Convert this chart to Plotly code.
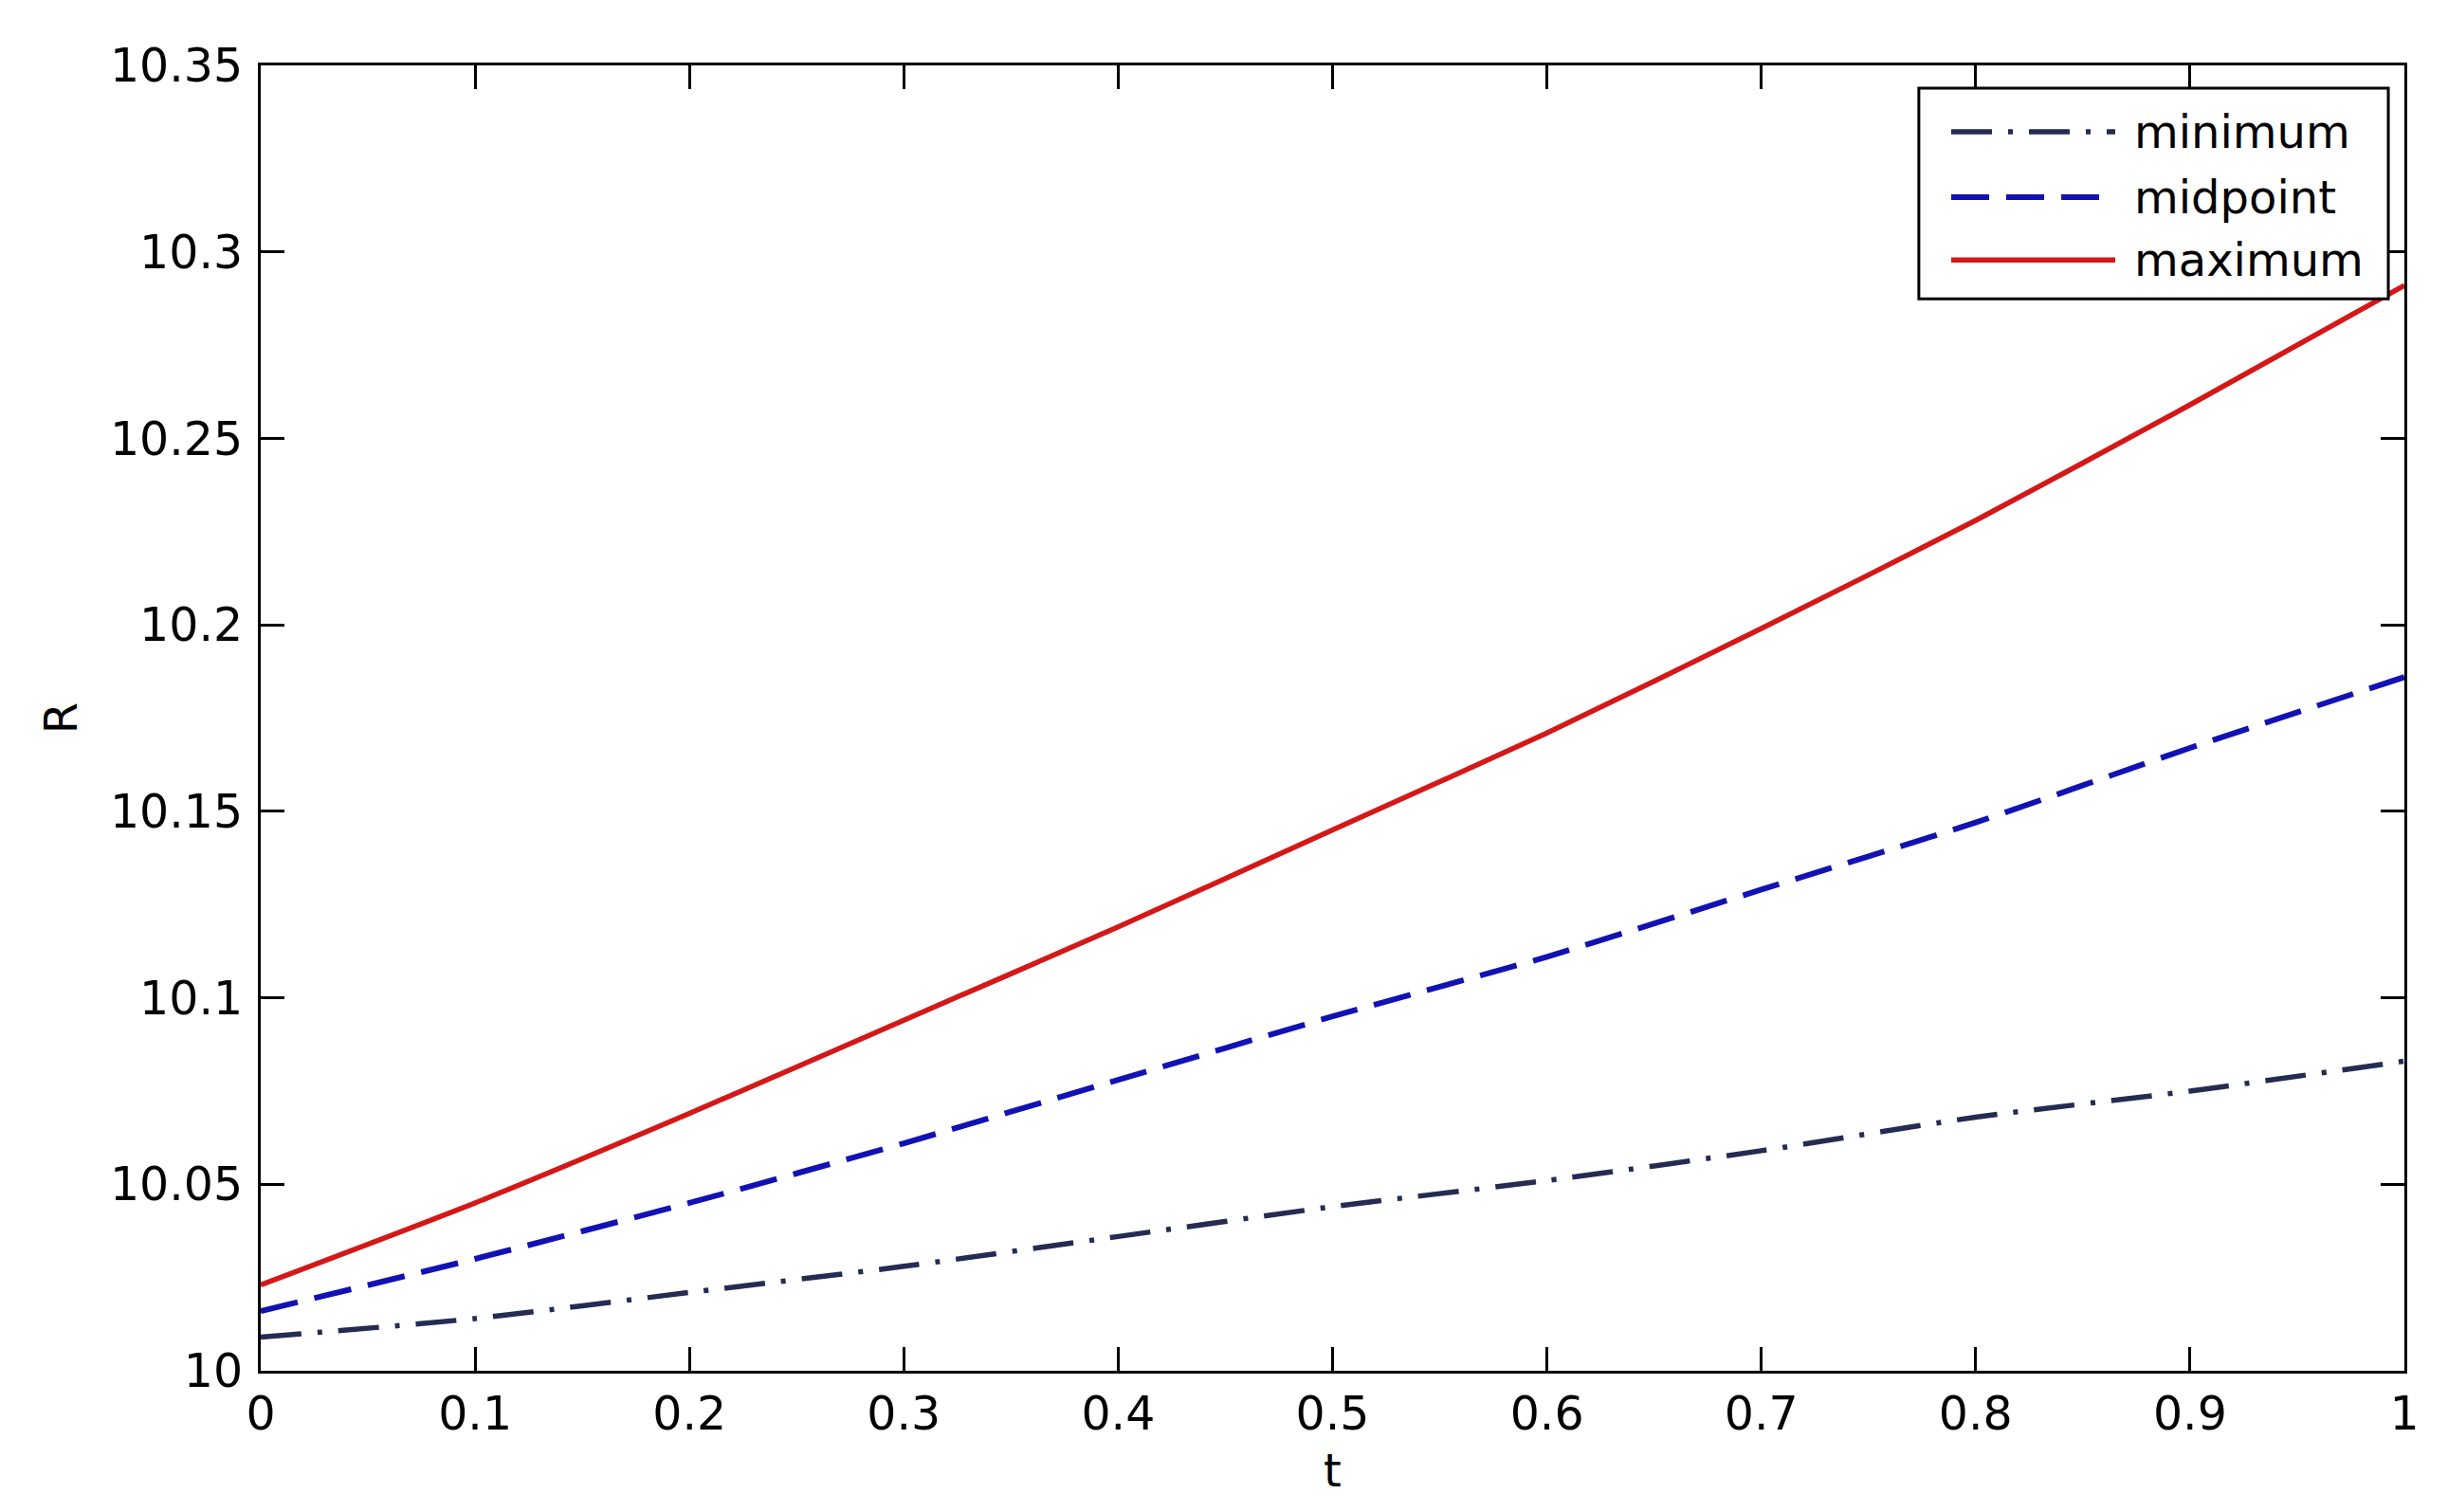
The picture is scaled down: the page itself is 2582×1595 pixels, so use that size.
import plotly.graph_objects as go

# ---- data ----
t_values = [0.0, 0.1, 0.2, 0.3, 0.4, 0.5, 0.6, 0.7, 0.8, 0.9, 1.0]
r_minimum = [10.009, 10.014, 10.021, 10.028, 10.036, 10.044, 10.051, 10.059, 10.068, 10.075, 10.083]
r_midpoint = [10.016, 10.030, 10.045, 10.061, 10.078, 10.095, 10.111, 10.129, 10.147, 10.167, 10.186]
r_maximum = [10.023, 10.045, 10.069, 10.094, 10.119, 10.145, 10.171, 10.199, 10.228, 10.259, 10.291]

series_names = ["minimum", "midpoint", "maximum"]
x_tick_vals = [0, 0.1, 0.2, 0.3, 0.4, 0.5, 0.6, 0.7, 0.8, 0.9, 1]
x_tick_text = ["0", "0.1", "0.2", "0.3", "0.4", "0.5", "0.6", "0.7", "0.8", "0.9", "1"]
y_tick_vals = [10, 10.05, 10.1, 10.15, 10.2, 10.25, 10.3, 10.35]
y_tick_text = ["10", "10.05", "10.1", "10.15", "10.2", "10.25", "10.3", "10.35"]

# ---- styles ----
colors = ["#252b52", "#1212b4", "#d41818"]
dashes = ["43px,17px,5px,17px", "40px,18px", "solid"]
widths = [5.5, 6, 5.5]
FONT = "DejaVu Sans"

fig = go.Figure()
for name, ys, c, d, w in zip(series_names, [r_minimum, r_midpoint, r_maximum], colors, dashes, widths):
    fig.add_trace(go.Scatter(x=t_values, y=ys, mode="lines", name=name,
                             line=dict(color=c, dash=d, width=w, shape="spline", smoothing=0.6),
                             showlegend=False))

axis_common = dict(showline=True, linecolor="black", linewidth=3, mirror="ticks",
                   ticks="inside", ticklen=25, tickwidth=3, tickcolor="black",
                   showgrid=False, zeroline=False,
                   tickfont=dict(family=FONT, size=49, color="black"))

fig.update_xaxes(range=[0, 1], tickmode="array", tickvals=x_tick_vals, ticktext=x_tick_text,
                 ticklabelstandoff=0,
                 title=dict(text="t", font=dict(family=FONT, size=48, color="black"), standoff=16),
                 **axis_common)
fig.update_yaxes(range=[10, 10.35], tickmode="array", tickvals=y_tick_vals, ticktext=y_tick_text,
                 ticklabelstandoff=6,
                 title=dict(text="R", font=dict(family=FONT, size=48, color="black"), standoff=20),
                 **axis_common)

# ---- custom legend (long line samples as in the reference) ----
shapes = [dict(type="rect", xref="paper", yref="paper", x0=0.7735, x1=0.9925, y0=0.8212, y1=0.9826,
               line=dict(color="black", width=3), fillcolor="white", layer="above")]
annotations = []
entry_y = [0.9491, 0.8990, 0.8510]
for name, c, d, w, yy in zip(series_names, colors, dashes, widths, entry_y):
    shapes.append(dict(type="line", xref="paper", yref="paper", x0=0.7886, x1=0.8651, y0=yy, y1=yy,
                       line=dict(color=c, dash=d, width=w), layer="above"))
    annotations.append(dict(xref="paper", yref="paper", x=0.8731, y=yy, text=name, showarrow=False,
                            xanchor="left", yanchor="middle",
                            font=dict(family=FONT, size=48, color="black")))

# the page body has an 8px default margin, so the figure is offset by 8px
fig.update_layout(width=2574, height=1587,
                  margin=dict(l=267, r=46, t=61, b=149),
                  paper_bgcolor="white", plot_bgcolor="white",
                  shapes=shapes, annotations=annotations, showlegend=False)

fig.write_html("out.html")
